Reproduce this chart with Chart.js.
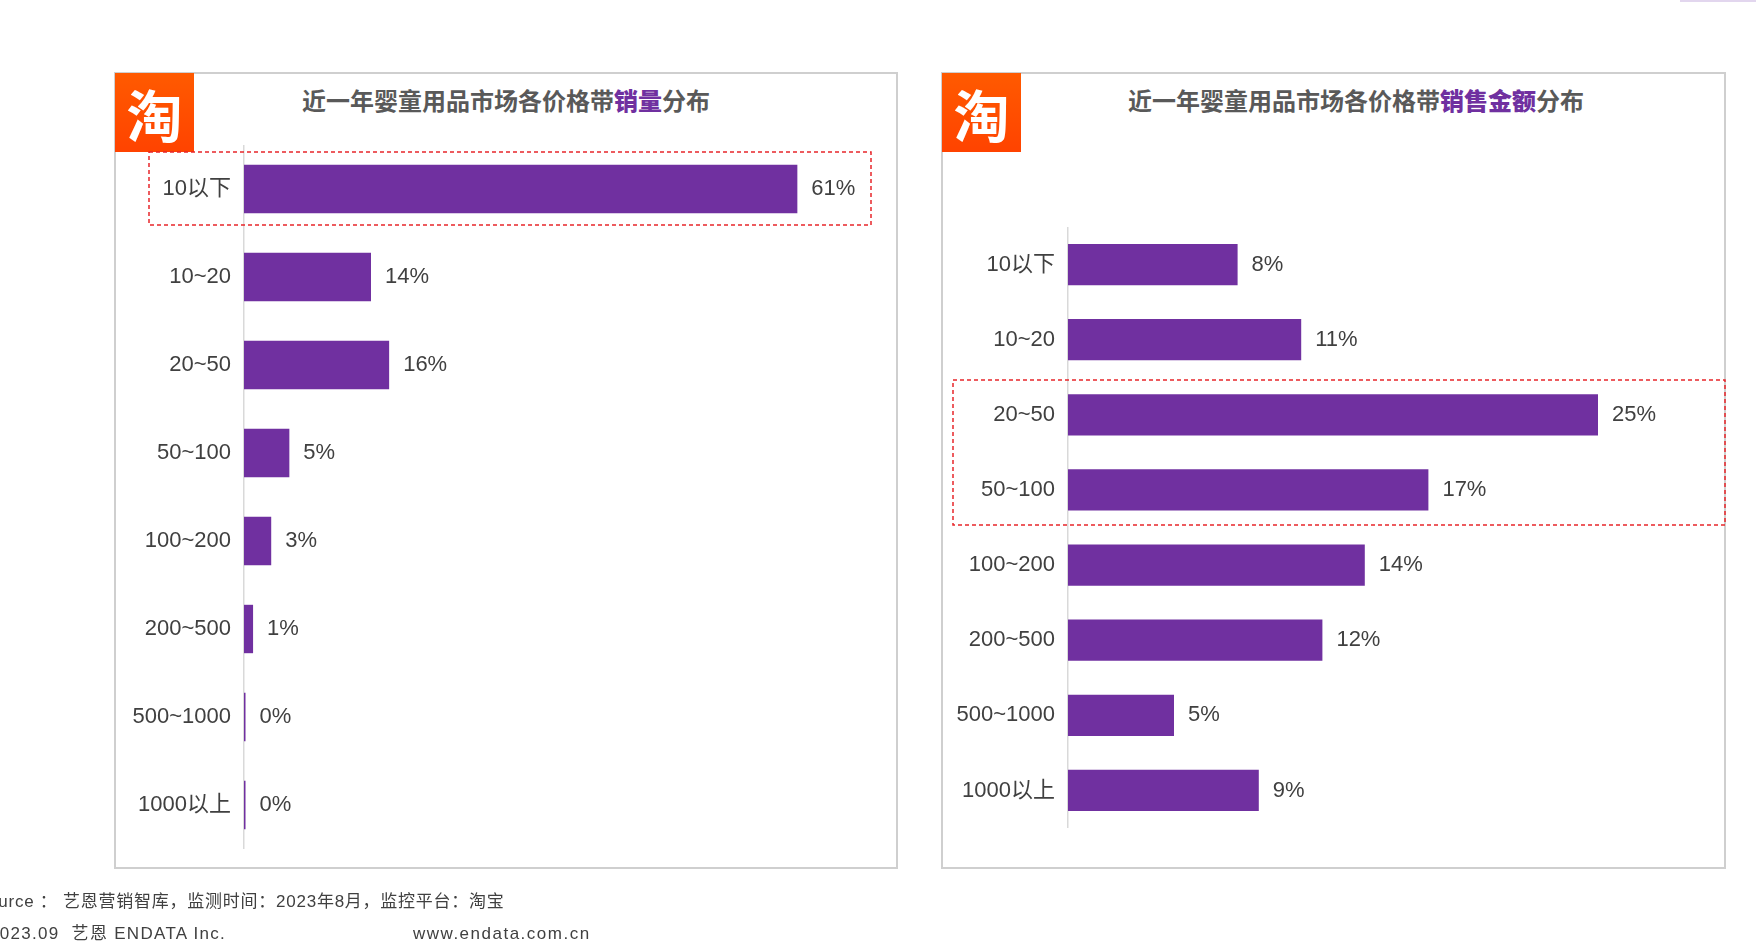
<!DOCTYPE html>
<html lang="zh-CN">
<head>
<meta charset="utf-8">
<title>近一年婴童用品市场各价格带分布</title>
<script src="https://cdn.jsdelivr.net/npm/chart.js@4.4.0/dist/chart.umd.min.js"></script>
<style>
  body {
    margin: 0;
    width: 1756px;
    height: 942px;
    overflow: hidden;
    background: #fff;
    position: relative;
    font-family: "Liberation Sans", "Noto Sans CJK SC", sans-serif;
  }
  .panel {
    position: absolute;
    box-sizing: border-box;
    border: 2px solid #CFCFCF;
  }
  .logo {
    position: absolute;
    width: 79px;
    height: 79px;
    background: linear-gradient(#FF5A00, #FF4300);
    color: #fff;
    font: 700 56px "Noto Sans CJK SC", sans-serif;
    line-height: 79px;
    text-align: center;
  }
  .title {
    position: absolute;
    top: 82px;
    height: 30px;
    line-height: 30px;
    text-align: center;
    color: #595959;
    font: 700 24px "Noto Sans CJK SC", sans-serif;
  }
  .title b { color: #7030A0; }
  canvas { position: absolute; }
  .foot {
    position: absolute;
    font-size: 17px;
    color: #404040;
    white-space: nowrap;
    line-height: 20px;
  }
  #marks { position: absolute; left: 0; top: 0; }
</style>
</head>
<body>

<div class="panel" style="left:114px; top:72px; width:784px; height:797px;"></div>
<div class="panel" style="left:941px; top:72px; width:785px; height:797px;"></div>

<div class="logo" style="left:115px; top:73px;">淘</div>
<div class="logo" style="left:942px; top:73px;">淘</div>

<div class="title" style="left:115px; width:782px;">近一年婴童用品市场各价格带<b>销量</b>分布</div>
<div class="title" style="left:956px; width:800px;">近一年婴童用品市场各价格带<b>销售金额</b>分布</div>

<canvas id="volumeChart" width="764" height="704" style="left:115px; top:145px;"></canvas>
<canvas id="amountChart" width="762" height="601" style="left:942px; top:227px;"></canvas>

<svg id="marks" width="1756" height="942">
  <rect x="149" y="152" width="722" height="73" fill="none" stroke="#E8262A" stroke-width="1.5" stroke-dasharray="4 3"/>
  <rect x="953" y="380" width="772" height="145" fill="none" stroke="#E8262A" stroke-width="1.5" stroke-dasharray="4 3"/>
  <rect x="1680" y="0" width="76" height="2" fill="#E2D6EE"/>
</svg>

<div class="foot" style="left:-24px; top:892px; letter-spacing:0.75px;">Source ： 艺恩营销智库，监测时间：2023年8月，监控平台：淘宝</div>
<div class="foot" style="left:-11px; top:924px; letter-spacing:1.3px;">2023.09&nbsp;&nbsp;艺恩 ENDATA Inc.</div>
<div class="foot" style="left:413px; top:924px; letter-spacing:1.5px;">www.endata.com.cn</div>

<script>
const priceBands = ['10以下', '10~20', '20~50', '50~100', '100~200', '200~500', '500~1000', '1000以上'];
const volumeShare = [61, 14, 16, 5, 3, 1, 0, 0];
const amountShare = [8, 11, 25, 17, 14, 12, 5, 9];

const barColor = '#7030A0';
const labelFont = '22px "Liberation Sans", "Noto Sans CJK SC", sans-serif';

// draws the "61%" style numbers to the right of each bar
const valueLabels = {
    id: 'valueLabels',
    afterDatasetsDraw(chart) {
        const ctx = chart.ctx;
        const values = chart.data.datasets[0].data;
        ctx.save();
        ctx.font = labelFont;
        ctx.fillStyle = '#404040';
        ctx.textBaseline = 'middle';
        chart.getDatasetMeta(0).data.forEach((bar, i) => {
            ctx.fillText(values[i] + '%', bar.x + 14, bar.y);
        });
        ctx.restore();
    }
};

function makeChart(canvasId, values, xMax, axisWidth) {
    const ctx = document.getElementById(canvasId).getContext('2d');
    return new Chart(ctx, {
        type: 'bar',
        data: {
            labels: priceBands,
            datasets: [{
                data: values,
                backgroundColor: barColor,
                borderWidth: 0,
                minBarLength: 1.5,
                barPercentage: 0.55,
                categoryPercentage: 1.0
            }]
        },
        options: {
            indexAxis: 'y',
            responsive: false,
            animation: false,
            devicePixelRatio: 1,
            layout: { padding: 0 },
            plugins: {
                legend: { display: false },
                tooltip: { enabled: false }
            },
            scales: {
                x: {
                    display: false,
                    min: 0,
                    max: xMax
                },
                y: {
                    afterFit: (scale) => {
                        scale.width = axisWidth;
                        // keep the bars filling the whole canvas height
                        scale.paddingTop = 0;
                        scale.paddingBottom = 0;
                    },
                    grid: { display: false, drawTicks: false },
                    border: { display: true, color: '#D9D9D9', width: 1.5 },
                    ticks: {
                        padding: 13,
                        color: '#404040',
                        font: { family: '"Liberation Sans", "Noto Sans CJK SC", sans-serif', size: 22 }
                    }
                }
            }
        },
        plugins: [valueLabels]
    });
}

makeChart('volumeChart', volumeShare, 70, 129);
makeChart('amountChart', amountShare, 30, 126);
</script>
</body>
</html>
